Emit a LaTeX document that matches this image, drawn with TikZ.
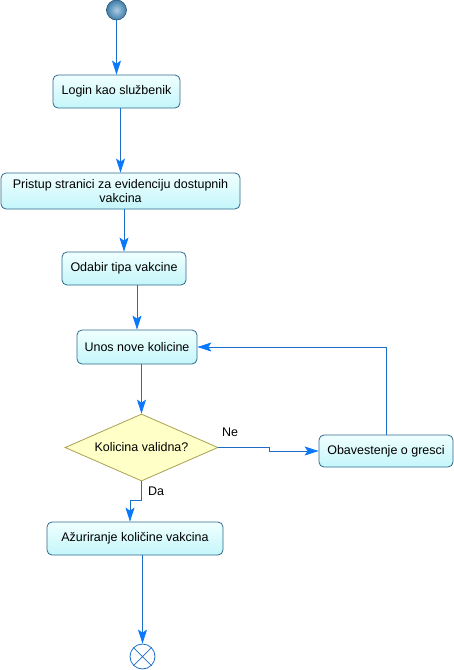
\documentclass[tikz,border=0pt]{standalone}
\usepackage{fontspec}
\setmainfont{Liberation Sans}
\usepackage{tikz}
\usetikzlibrary{shapes.geometric,arrows.meta,calc}

\definecolor{linija}{RGB}{28,110,200}
\definecolor{strelica}{RGB}{10,120,250}
\definecolor{okvir}{RGB}{45,105,140}
\definecolor{gore}{RGB}{240,255,255}
\definecolor{dole}{RGB}{196,246,250}
\definecolor{romb}{RGB}{255,255,200}
\definecolor{rombokvir}{RGB}{170,160,80}
\definecolor{pocetak}{RGB}{70,140,190}

\tikzset{
  akcija/.style={rectangle,rounded corners=5pt,draw=okvir,line width=0.8pt,
    top color=gore,bottom color=dole,inner sep=1pt,align=center,
    font=\fontsize{12.5}{14}\selectfont},
  odluka/.style={diamond,draw=rombokvir,line width=0.8pt,fill=romb,inner sep=0pt,
    minimum width=153,minimum height=67,aspect=2.28,
    font=\fontsize{12.5}{14}\selectfont},
  veza/.style={draw=linija,line width=0.8pt,
    -{Stealth[length=14pt,width=9pt,inset=3pt,fill=strelica,color=strelica]}},
  oznaka/.style={font=\fontsize{12.5}{14}\selectfont}
}

\begin{document}
\begin{tikzpicture}[x=1pt,y=-1pt]
            \useasboundingbox (0,0) rectangle (454,670);%与参考图同样大小
            \node[circle,draw=pocetak!60!black,line width=0.6pt,inner color=pocetak!45!white,outer color=pocetak!90!black,minimum size=20,inner sep=0pt] (start) at (116.5,10) {};%开始
            \node[akcija,minimum width=127,minimum height=33] (login) at (116.5,91.5) {Login kao službenik};
            \node[akcija,minimum width=239,minimum height=36] (pristup) at (120.5,191) {Pristup stranici za evidenciju dostupnih\\vakcina};
            \node[akcija,minimum width=124,minimum height=33] (odabir) at (124,268.5) {Odabir tipa vakcine};
            \node[akcija,minimum width=120,minimum height=34] (unos) at (137,347) {Unos nove kolicine};
            \node[odluka] (provera) at (141.5,447.5) {Kolicina validna?};%判断
            \node[akcija,minimum width=134,minimum height=32] (greska) at (386,451) {Obavestenje o gresci};
            \node[akcija,minimum width=176,minimum height=33] (azur) at (135,538.5) {Ažuriranje količine vakcina};
            \node[circle,draw=linija,line width=0.8pt,fill=white,minimum size=25,inner sep=0pt] (kraj) at (142.5,656.5) {};%结束
            \draw[linija,line width=0.7pt] (kraj.north west) -- (kraj.south east) (kraj.north east) -- (kraj.south west);
            \coordinate (ne) at (269,447.5);%Ne 分支的折点
            \coordinate (da) at (130,500);%Da 分支的折点
            \draw[veza] (start) -- (login);
            \draw[veza] (login.south -| pristup.north) -- (pristup.north);
            \draw[veza] (pristup.south -| odabir.north) -- (odabir.north);
            \draw[veza] (odabir.south -| unos.north) -- (unos.north);
            \draw[veza] (unos.south -| provera.north) -- (provera.north);
            \draw[veza] (provera.east) -- (ne) |- (greska.west);
            \draw[veza] (greska.north) |- (unos.east);%回到输入
            \draw[veza] (provera.south) |- (da) -- (da |- azur.north);
            \draw[veza] (azur.south -| kraj.north) -- (kraj.north);
            \node[oznaka] at (230,432) {Ne};
            \node[oznaka] at (156,491) {Da};
\end{tikzpicture}
\end{document}
